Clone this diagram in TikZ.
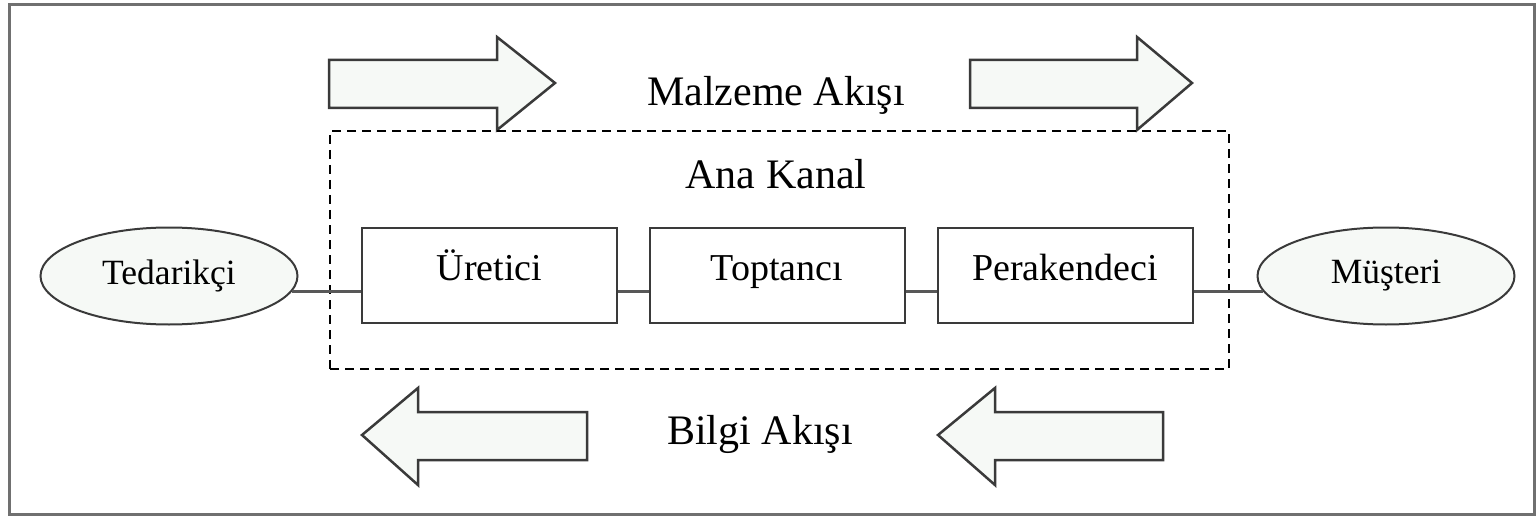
\documentclass[tikz,border=0pt]{standalone}
\usepackage{fontspec}
\setmainfont{Liberation Serif}
\usetikzlibrary{shapes.geometric}
\definecolor{fillc}{HTML}{F6F9F6}
\definecolor{linec}{HTML}{3A3A3A}
\definecolor{framec}{HTML}{707070}
\begin{document}
\begin{tikzpicture}[x=1pt,y=-1pt,
  bigarrow/.style={draw=linec,line width=2.5pt,fill=fillc,line join=miter},
  stage/.style={draw=linec,line width=2pt,fill=white,rectangle,minimum width=255pt,minimum height=95pt,
    font=\fontsize{38}{44}\selectfont,text height=27pt,text depth=18pt},
  party/.style={draw=linec,line width=2pt,fill=fillc,ellipse,minimum width=257pt,minimum height=97pt,
    inner sep=0pt,font=\fontsize{35.5}{40}\selectfont},
  conn/.style={draw=linec!85,line width=3pt},
  big/.style={font=\fontsize{42}{50}\selectfont}]
\useasboundingbox (0,0) rectangle (1537,516);
\draw[framec,line width=3pt] (9,5) rectangle (1534,514);
% flow arrows
\draw[bigarrow] (329,60) -- (497,60) -- (497,37) -- (555,83) -- (497,130) -- (497,108) -- (329,108) -- cycle;
\draw[bigarrow] (970,60) -- (1137,60) -- (1137,37) -- (1192,83) -- (1137,130) -- (1137,108) -- (970,108) -- cycle;
\draw[bigarrow] (362,435) -- (418,388) -- (418,412) -- (587,412) -- (587,460) -- (418,460) -- (418,485) -- cycle;
\draw[bigarrow] (938,435) -- (995,388) -- (995,412) -- (1163,412) -- (1163,460) -- (995,460) -- (995,485) -- cycle;
\node[big] (malz) at (776,95) {Malzeme Akışı};
\node[big] (bilgi) at (760,434) {Bilgi Akışı};
% main channel
\node[draw=black,dashed,dash pattern=on 9pt off 6pt,line width=2pt,minimum width=899pt,minimum height=238pt,anchor=north west] (ana) at (329,130) {};
\node[big] (anal) at (776,174) {Ana Kanal};
\node[stage] (ure) at (489.5,275.5) {Üretici};
\node[stage] (top) at (777,275.5) {Toptancı};
\node[stage] (per) at (1065,275.5) {Perakendeci};
\node[party] (ted) at (169,276) {Tedarikçi};
\node[party] (mus) at (1386,276) {Müşteri};
% connectors
\draw[conn] (ted.-7.5) -- (ted.-7.5 -| ure.west);
\draw[conn] ([yshift=-16pt]ure.east) -- ([yshift=-16pt]top.west);
\draw[conn] ([yshift=-16pt]top.east) -- ([yshift=-16pt]per.west);
\draw[conn] (mus.187.5 -| per.east) -- (mus.187.5);
\end{tikzpicture}
\end{document}
